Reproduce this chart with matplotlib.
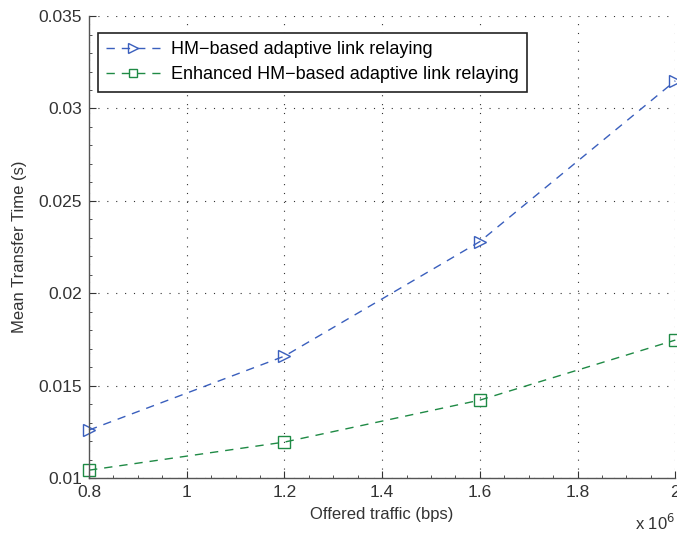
import matplotlib
matplotlib.use('Agg')
import matplotlib.pyplot as plt
from matplotlib.ticker import AutoMinorLocator

plt.rcParams['font.family'] = ['Liberation Sans', 'DejaVu Sans']

# 数据
traffic = [0.8, 1.2, 1.6, 2.0]  # x 10^6 bps
hm_based = [0.0126, 0.0166, 0.0228, 0.0315]
enhanced = [0.01043, 0.01195, 0.01422, 0.01747]
labels = ['HM\u2212based adaptive link relaying',
          'Enhanced HM\u2212based adaptive link relaying']
xticks = [0.8, 1.0, 1.2, 1.4, 1.6, 1.8, 2.0]
xticklabels = ['0.8', '1', '1.2', '1.4', '1.6', '1.8', '2']
yticks = [0.01, 0.015, 0.02, 0.025, 0.03, 0.035]
yticklabels = ['0.01', '0.015', '0.02', '0.025', '0.03', '0.035']

fig = plt.figure(figsize=(6.77, 5.36), dpi=100)
ax = fig.add_axes([0.1315, 0.108, 0.866, 0.862])

ax.plot(traffic, hm_based, linestyle=(0, (6, 5)), color='#3a5fbd', lw=1.0,
        marker='>', markersize=9, markerfacecolor='none', markeredgewidth=1.0,
        label=labels[0], clip_on=False)
ax.plot(traffic, enhanced, linestyle=(0, (6, 5)), color='#1f8a45', lw=1.0,
        marker='s', markersize=8, markerfacecolor='none', markeredgewidth=1.0,
        label=labels[1], clip_on=False)

ax.set_xlim(0.8, 2.0)
ax.set_ylim(0.01, 0.035)
ax.set_xticks(xticks)
ax.set_xticklabels(xticklabels)
ax.set_yticks(yticks)
ax.set_yticklabels(yticklabels)
ax.xaxis.set_minor_locator(AutoMinorLocator(4))
ax.yaxis.set_minor_locator(AutoMinorLocator(5))
ax.tick_params(which='both', direction='in', labelsize=12.5, colors='#333333')
ax.tick_params(which='major', length=5)
ax.tick_params(which='minor', length=2.5)
ax.tick_params(axis='x', pad=5)
ax.tick_params(axis='y', pad=5)

for s in ['top', 'right']:
    ax.spines[s].set_visible(False)
for s in ['left', 'bottom']:
    ax.spines[s].set_color('#555555')
    ax.spines[s].set_linewidth(1.0)

ax.grid(True, which='major', linestyle=(0, (1, 7)), color='#333333', lw=0.8)

ax.set_xlabel('Offered traffic (bps)', fontsize=12, color='#333333', labelpad=5)
ax.set_ylabel('Mean Transfer Time (s)', fontsize=12, color='#333333', labelpad=8)
fig.text(0.968, 0.025, r'x 10$^{6}$', fontsize=12, color='#333333',
         ha='center', va='center')

leg = ax.legend(loc='upper left', bbox_to_anchor=(0.015, 0.963), fontsize=13,
                fancybox=False, framealpha=1, edgecolor='#222222',
                handlelength=3.0, handletextpad=0.6, borderpad=0.45,
                labelspacing=0.45, markerscale=0.8, borderaxespad=0)
leg.get_frame().set_linewidth(1.2)

plt.savefig('out.png', dpi=100)
